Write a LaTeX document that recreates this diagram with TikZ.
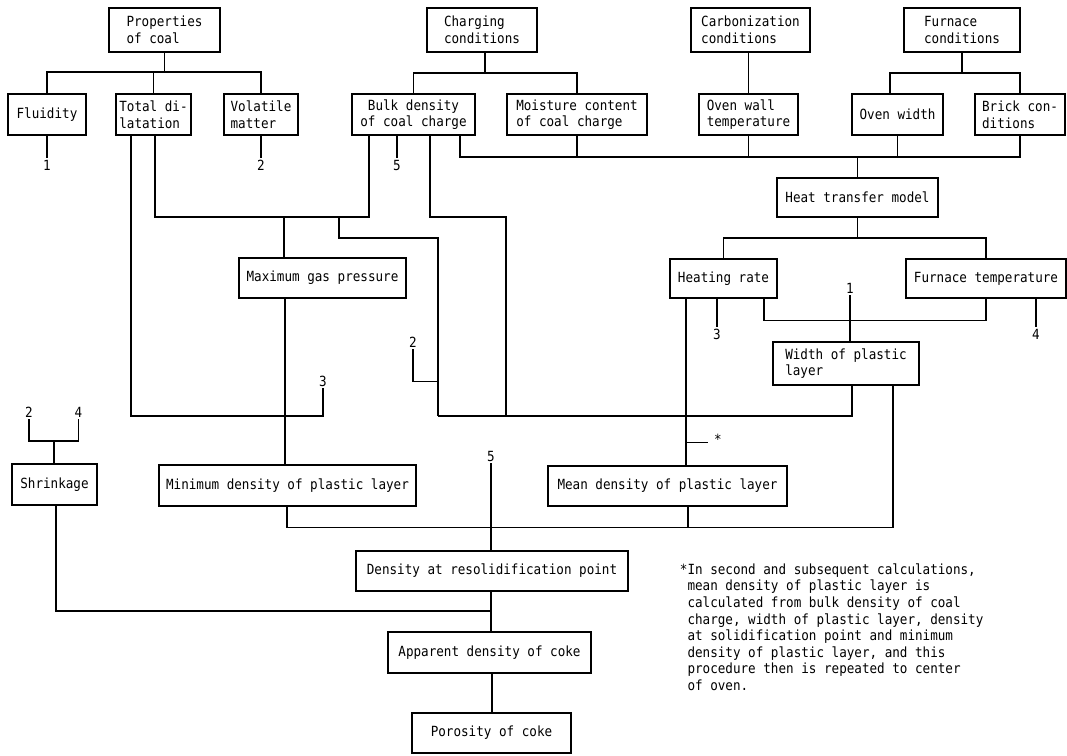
\documentclass[tikz,border=0pt]{standalone}
\usepackage{fontspec}
\newfontfamily\diagfam[FakeStretch=0.9]{DejaVu Sans Mono}
\newcommand\dfont{\diagfam\fontsize{14pt}{16.6pt}\selectfont}
\begin{document}
\begin{tikzpicture}[x=1pt,y=-1pt,
  box/.style={draw, line width=1.1pt, inner sep=2pt, font=\dfont, align=left, minimum height=41pt},
  lbl/.style={font=\dfont, inner sep=1.5pt},
  every path/.style={line width=1.1pt}]
\useasboundingbox (0,0) rectangle (1067,755);
% top row
\node[box, minimum width=111pt, minimum height=44pt] (prop) at (164.5,30) {Properties\\of coal};
\node[box, minimum width=110pt, minimum height=44pt] (charg) at (482,30) {Charging\\conditions};
\node[box, minimum width=119pt, minimum height=44pt] (carb) at (750.5,30) {Carbonization\\conditions};
\node[box, minimum width=116pt, minimum height=44pt] (furn) at (962,30) {Furnace\\conditions};
% second row
\node[box, minimum width=78pt] (flu) at (47,114.5) {Fluidity};
\node[box, minimum width=75pt] (tdil) at (153.5,114.5) {Total di-\\latation};
\node[box, minimum width=74pt] (vol) at (261,114.5) {Volatile\\matter};
\node[box, minimum width=123pt, align=center] (bulk) at (413.5,114.5) {Bulk density\\of coal charge};
\node[box, minimum width=140pt] (moist) at (577,114.5) {Moisture content\\of coal charge};
\node[box, minimum width=99pt] (owall) at (748.5,114.5) {Oven wall\\temperature};
\node[box, minimum width=91pt] (owid) at (897.5,114.5) {Oven width};
\node[box, minimum width=90pt] (brick) at (1020,114.5) {Brick con-\\ditions};
% middle
\node[box, minimum width=161pt, minimum height=39pt] (heat) at (857.5,197.5) {Heat transfer model};
\node[box, minimum width=167pt, minimum height=40pt] (maxgas) at (322.5,278) {Maximum gas pressure};
\node[box, minimum width=107pt, minimum height=39pt] (hrate) at (723.5,278.5) {Heating rate};
\node[box, minimum width=160pt, minimum height=39pt] (ftemp) at (986,278.5) {Furnace temperature};
\node[box, minimum width=146pt, minimum height=43pt] (width) at (846,363.5) {Width of plastic\\layer};
% lower
\node[box, minimum width=85pt] (shrink) at (54.5,484.5) {Shrinkage};
\node[box, minimum width=257pt] (mind) at (287.5,485.5) {Minimum density of plastic layer};
\node[box, minimum width=239pt, minimum height=40pt] (meand) at (667.5,486) {Mean density of plastic layer};
\node[box, minimum width=272pt, minimum height=40pt] (dres) at (492,571) {Density at resolidification point};
\node[box, minimum width=203pt] (appd) at (489.5,652.5) {Apparent density of coke};
\node[box, minimum width=159pt, minimum height=40pt] (por) at (491.5,733) {Porosity of coke};
% number labels
\node[lbl] (f1) at (47,165) {1};
\node[lbl] (v2) at (261,165) {2};
\node[lbl] (b5) at (397,165) {5};
\node[lbl] (t3) at (323,381) {3};
\node[lbl] (w2) at (413,342) {2};
\node[lbl] (h3) at (717,334) {3};
\node[lbl] (w1) at (850,288) {1};
\node[lbl] (f4) at (1036,334) {4};
\node[lbl] (star) at (718,439) {*};
\node[lbl] (d5) at (491,456) {5};
\node[lbl] (s2) at (29,412) {2};
\node[lbl] (s4) at (78.5,412) {4};
% footnote
\node[font=\dfont, align=left, anchor=north west, inner sep=0pt] (note) at (687,563)
 {\llap{*}In second and subsequent calculations,\\
  mean density of plastic layer is\\
  calculated from bulk density of coal\\
  charge, width of plastic layer, density\\
  at solidification point and minimum\\
  density of plastic layer, and this\\
  procedure then is repeated to center\\
  of oven.};
% ---- connectors ----
% properties tree
\draw (prop.south) -- ++(0,20);
\draw (flu.north) |- (vol.north |- 0,72) -- (vol.north);
\draw (tdil.north) -- ++(0,-22);
\draw (flu.south) -- (f1.north);
\draw (vol.south) -- (v2.north);
% charging tree
\draw (charg.south -| 485,0) -- ++(0,21);
\draw (bulk.north) |- (moist.north |- 0,73) -- (moist.north);
\draw (bulk.south -| b5) -- (b5.north);
% carbonization
\draw (carb.south -| owall.north) -- (owall.north);
% furnace tree
\draw (furn.south) -- ++(0,21);
\draw (owid.north -| 890,0) |- (brick.north |- 0,73) -- (brick.north);
% bus into heat transfer model
\draw (bulk.south -| 460,0) |- (brick.south |- 0,157) -- (brick.south);
\draw (moist.south) -- ++(0,22);
\draw (owall.south) -- ++(0,22);
\draw (owid.south) -- ++(0,22);
\draw (heat.north) -- ++(0,-21);
% heat transfer model outputs
\draw (heat.south) -- ++(0,21);
\draw (hrate.north) |- (ftemp.north |- 0,238) -- (ftemp.north);
% total dilatation / bulk density to maximum gas pressure
\draw (tdil.south -| 155,0) |- (369,217) -- (bulk.south -| 369,0);
\draw (284,217) -- (maxgas.north -| 284,0);
\draw (339,217) |- (438,238) -- (438,416);
\draw (w2.south) |- (438,381.5);
\draw (bulk.south -| 430,0) |- (506,217) -- (506,416);
\draw (width.south -| 852,0) |- (438,416);
% total dilatation to "3"
\draw (tdil.south -| 131,0) |- (t3.south |- 0,416) -- (t3.south);
% heating rate / furnace temperature to width of plastic layer
\draw (hrate.south -| 686,0) -- (meand.north -| 686,0);
\draw (686,442.5) -- (708,442.5);
\draw (hrate.south -| h3) -- (h3.north);
\draw (hrate.south -| 764,0) |- (ftemp.south |- 0,320.5) -- (ftemp.south);
\draw (w1.south) -- (width.north -| w1);
\draw (ftemp.south -| f4) -- (f4.north);
% lower section
\draw (maxgas.south -| 285,0) -- (mind.north -| 285,0);
\draw (width.south -| 893,0) |- (287,527.5) -- (mind.south -| 287,0);
\draw (meand.south -| 688,0) -- (688,527.5);
\draw (d5.south) -- (dres.north -| d5);
\draw (dres.south -| 491,0) -- (appd.north -| 491,0);
\draw (shrink.south -| 56,0) |- (491,611);
\draw (appd.south -| 492,0) -- (por.north -| 492,0);
\draw (s2.south) |- (s4.south |- 0,441) -- (s4.south);
\draw (shrink.north -| 54,0) -- ++(0,-23);
\end{tikzpicture}
\end{document}
